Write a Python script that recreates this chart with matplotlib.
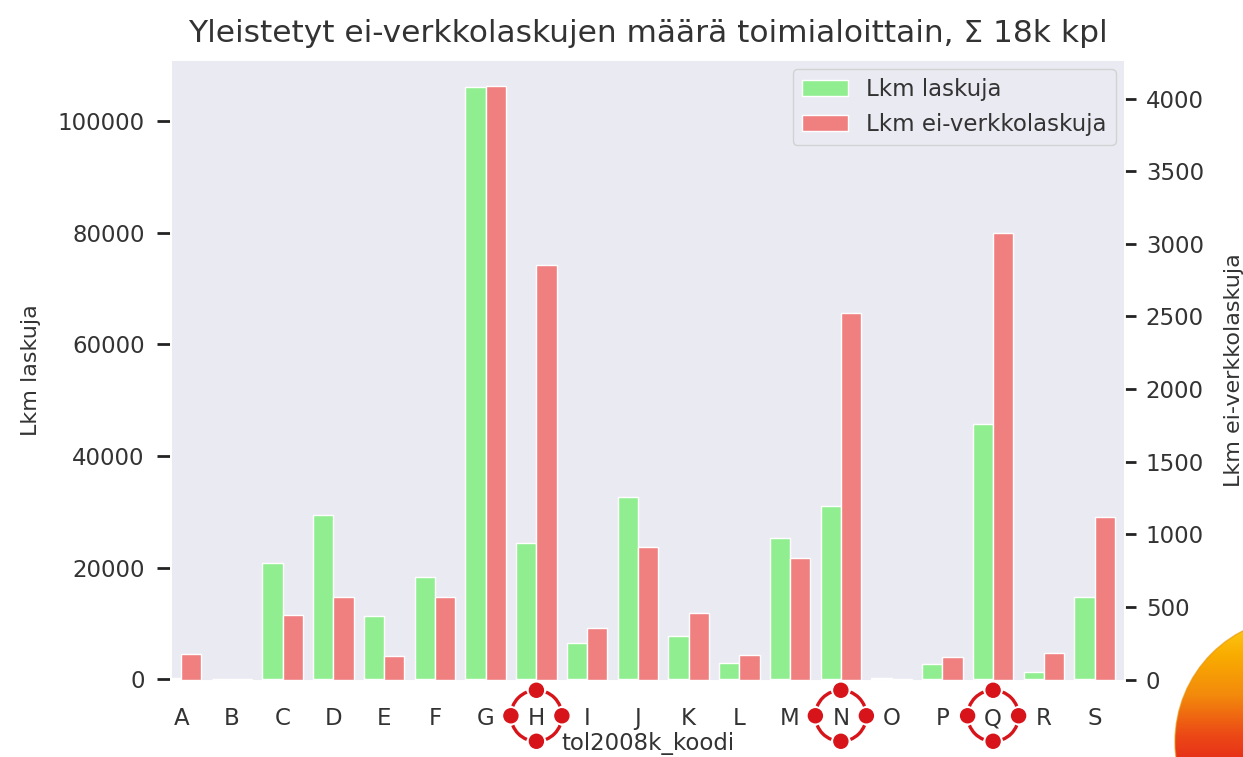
import matplotlib
matplotlib.use('Agg')
from matplotlib import pyplot as plt
from matplotlib import patches, transforms
from matplotlib.colors import LinearSegmentedColormap
import numpy as np
import seaborn as sns

categories = ['A', 'B', 'C', 'D', 'E', 'F', 'G', 'H', 'I', 'J',
              'K', 'L', 'M', 'N', 'O', 'P', 'Q', 'R', 'S']
lkm_laskuja = [300, 120, 20800, 29400, 11300, 18400, 106000, 24500, 6450, 32600,
               7700, 3040, 25400, 31000, 250, 2690, 45800, 1430, 14700]
lkm_ei_verkko = [179, 2, 441, 565, 160, 565, 4083, 2855, 358, 910,
                 455, 172, 834, 2524, 4, 152, 3076, 186, 1117]
highlighted = ['H', 'N', 'Q']

sns.set_theme(style='dark')
plt.rcParams['font.family'] = ['DejaVu Sans']
txt = '#333333'

fig = plt.figure(figsize=(12.43, 7.57), dpi=100)
ax = fig.add_axes([0.1376, 0.1004, 0.7675, 0.8203])
ax2 = ax.twinx()

x = np.arange(len(categories))
b1 = ax.bar(x - 0.4, lkm_laskuja, width=0.4, align='edge', color='lightgreen',
            edgecolor='white', linewidth=1, label='Lkm laskuja')
b2 = ax2.bar(x, lkm_ei_verkko, width=0.4, align='edge', color='lightcoral',
             edgecolor='white', linewidth=1, label='Lkm ei-verkkolaskuja')

ax.set_xlim(-0.2, 18.6)
ax.set_ylim(-270, 110900)
ax2.set_ylim(-10, 4265)
ax.set_xticks(x)
ax.set_xticklabels(categories)
ax.set_yticks(range(0, 100001, 20000))
ax2.set_yticks(range(0, 4001, 500))

ax.tick_params(axis='x', length=0, pad=19, labelsize=16.5, labelcolor=txt)
ax.tick_params(axis='y', left=True, length=10, width=2, color='#222222', pad=9,
               labelsize=16.5, labelcolor=txt)
ax2.tick_params(axis='y', right=True, length=8, width=2, color='#222222', pad=7,
                labelsize=16.5, labelcolor=txt)
ax2.grid(False)
ax.grid(False)

ax.set_title('Yleistetyt ei-verkkolaskujen määrä toimialoittain, Σ 18k kpl',
             fontsize=22.5, pad=13, color=txt)
ax.set_xlabel('tol2008k_koodi', fontsize=16.5, labelpad=1, color=txt)
ax.set_ylabel('Lkm laskuja', fontsize=16, labelpad=12, color=txt)
ax2.set_ylabel('Lkm ei-verkkolaskuja', fontsize=16, labelpad=14, color=txt)

leg = ax2.legend(handles=[b1, b2], loc='upper right', fontsize=16.5, frameon=True,
                 edgecolor='#cccccc', framealpha=0.8, borderaxespad=0.4)
for t_ in leg.get_texts():
    t_.set_color(txt)

# dashed red rings with dots around highlighted tick labels
red = '#D7141A'
r = 0.255
for cat in highlighted:
    i = categories.index(cat)
    trans = fig.dpi_scale_trans + transforms.ScaledTranslation(i, -0.056, ax.get_xaxis_transform())
    for a in (0, 90, 180, 270):
        arc = patches.Arc((0, 0), 2 * r, 2 * r, theta1=a + 22, theta2=a + 68,
                          transform=trans, color=red, lw=2.4, clip_on=False)
        ax.add_patch(arc)
        dot = patches.Circle((r * np.cos(np.radians(a)), r * np.sin(np.radians(a))), 0.07,
                             transform=trans, color=red, clip_on=False)
        ax.add_patch(dot)

# orange sun decoration in the bottom right corner
ov = fig.add_axes([0, 0, 1, 1], zorder=10)
ov.set_axis_off()
ov.patch.set_alpha(0)
gx, gy = np.meshgrid(np.linspace(1160, 1243, 84), np.linspace(600, 757, 158))
t = np.clip((gy - 615) / 160, 0, 1)
cmap = LinearSegmentedColormap.from_list('sun', ['#FFD21A', '#F9AC00', '#F38A0C', '#EC4A16', '#E4201A'])
im = ov.imshow(t, cmap=cmap, extent=(1160, 1243, 757, 600), origin='upper',
               vmin=0, vmax=1, aspect='auto', interpolation='bilinear')
clip = patches.Circle((1300, 742), 125, transform=ov.transData)
im.set_clip_path(clip)
ov.add_patch(patches.Circle((1300, 742), 125, fill=False, edgecolor='#E89000', lw=1, alpha=0.6))
ov.set_xlim(0, 1243)
ov.set_ylim(757, 0)

fig.savefig('out.png', dpi=100)
